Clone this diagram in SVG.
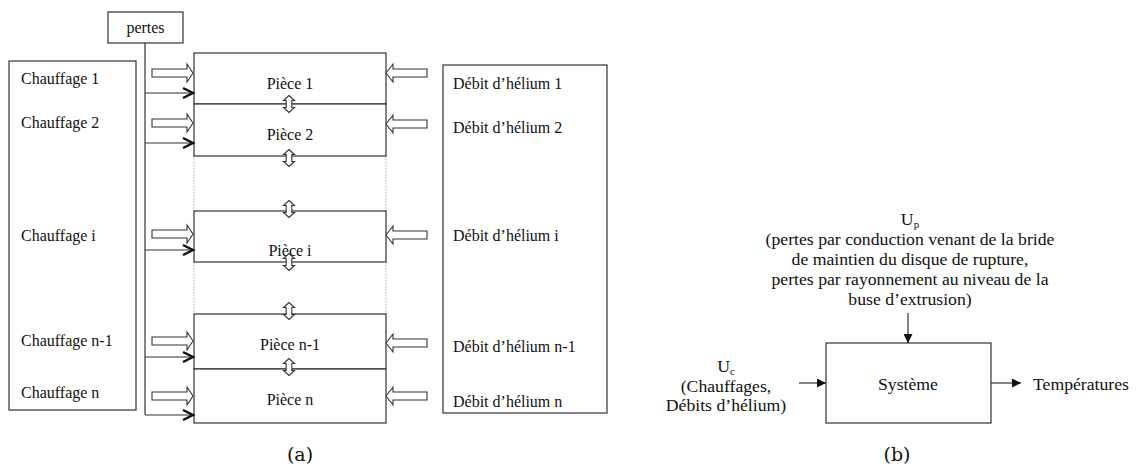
<svg xmlns="http://www.w3.org/2000/svg" width="1139" height="474" viewBox="0 0 1139 474">
<style>
text{font-family:"Liberation Serif","Tinos","DejaVu Serif",serif;fill:#111}
.t{font-size:16px}
.b{font-size:17.7px}
.cap{font-family:"DejaVu Serif","Liberation Serif",serif;font-size:19px}
.box{fill:#fff;stroke:#333;stroke-width:1.2}
.ln{fill:none;stroke:#333;stroke-width:1.2}
.dot{fill:none;stroke:#aaa;stroke-width:1;stroke-dasharray:1.5 1.5}
.hol{fill:#fff;stroke:#333;stroke-width:1.1;stroke-linejoin:miter}
.chev{fill:none;stroke:#111;stroke-width:2.4}
.sub{font-size:11px}
</style>
<defs>
<path id="hr" d="M0,0 L7,-9 L7,-4 L41,-4 L41,4 L7,4 L7,9 Z" class="hol"/>
<path id="hrt" d="M0,0 L-6,-9 L-6,-4 L-41,-4 L-41,4 L-6,4 L-6,9 Z" class="hol"/>
<path id="dv" d="M0,-8.5 L5.5,-3.5 L2.8,-3.5 L2.8,3.5 L5.5,3.5 L0,8.5 L-5.5,3.5 L-2.8,3.5 L-2.8,-3.5 L-5.5,-3.5 Z" class="hol"/>
<marker id="tri" viewBox="0 0 10 10" refX="10" refY="5" markerWidth="9" markerHeight="9" markerUnits="userSpaceOnUse" orient="auto">
<path d="M0,0 L10,5 L0,10 Z" fill="#111"/>
</marker>
</defs>

<g id="pertes">
<rect class="box" x="108" y="12" width="75" height="31"/>
<text class="t" x="145.5" y="33" text-anchor="middle">pertes</text>
</g>

<g id="chauffages">
<rect class="box" x="9" y="61" width="127" height="349"/>
<text class="t" x="21" y="84">Chauffage 1</text>
<text class="t" x="21" y="128">Chauffage 2</text>
<text class="t" x="21" y="241">Chauffage i</text>
<text class="t" x="21" y="346">Chauffage n-1</text>
<text class="t" x="21" y="398">Chauffage n</text>
</g>

<g id="pieces">
<path class="dot" d="M194,156 V211 M386,156 V211 M194,262 V314 M386,262 V314"/>
<rect class="box" x="194" y="53" width="192" height="51"/>
<rect class="box" x="194" y="104" width="192" height="52"/>
<rect class="box" x="194" y="211" width="192" height="51"/>
<rect class="box" x="194" y="314" width="192" height="55"/>
<rect class="box" x="194" y="369" width="192" height="54"/>
<text class="t" x="290" y="89" text-anchor="middle">Pièce 1</text>
<text class="t" x="290" y="140" text-anchor="middle">Pièce 2</text>
<text class="t" x="290" y="256" text-anchor="middle">Pièce i</text>
<text class="t" x="290" y="350" text-anchor="middle">Pièce n-1</text>
<text class="t" x="290" y="405" text-anchor="middle">Pièce n</text>
</g>

<g id="helium">
<rect class="box" x="443" y="65" width="164" height="348"/>
<text class="t" x="453" y="89">Débit d’hélium 1</text>
<text class="t" x="453" y="133">Débit d’hélium 2</text>
<text class="t" x="453" y="241">Débit d’hélium i</text>
<text class="t" x="453" y="352">Débit d’hélium n-1</text>
<text class="t" x="453" y="407">Débit d’hélium n</text>
</g>

<g id="connectors-a">
<path class="ln" d="M145,43 V415 M145,93 H192 M145,143 H192 M145,250 H192 M145,357 H192 M145,415 H192"/>
<path class="chev" d="M183,88 L193,93 L183,98 M183,138 L193,143 L183,148 M183,245 L193,250 L183,255 M183,352 L193,357 L183,362 M183,410 L193,415 L183,420"/>
<use href="#hrt" x="193" y="73"/>
<use href="#hrt" x="193" y="123"/>
<use href="#hrt" x="193" y="234"/>
<use href="#hrt" x="193" y="341"/>
<use href="#hrt" x="193" y="396"/>
<use href="#hr" x="386" y="73"/>
<use href="#hr" x="386" y="124"/>
<use href="#hr" x="386" y="235"/>
<use href="#hr" x="386" y="343"/>
<use href="#hr" x="386" y="396"/>
<use href="#dv" x="289" y="104"/>
<use href="#dv" x="289" y="158"/>
<use href="#dv" x="289" y="209"/>
<use href="#dv" x="289" y="262"/>
<use href="#dv" x="289" y="311"/>
<use href="#dv" x="289" y="367"/>
</g>

<text class="cap" x="300" y="461" text-anchor="middle">(a)</text>

<g id="up">
<text class="b" x="910" y="225" text-anchor="middle">U<tspan class="sub" dy="3">p</tspan></text>
<text class="b" x="910" y="245" text-anchor="middle">(pertes par conduction venant de la bride</text>
<text class="b" x="910" y="265" text-anchor="middle">de maintien du disque de rupture,</text>
<text class="b" x="910" y="285" text-anchor="middle">pertes par rayonnement au niveau de la</text>
<text class="b" x="910" y="305" text-anchor="middle">buse d’extrusion)</text>
</g>

<g id="uc">
<text class="b" x="726" y="372" text-anchor="middle">U<tspan class="sub" dy="3">c</tspan></text>
<text class="b" x="726" y="392" text-anchor="middle">(Chauffages,</text>
<text class="b" x="726" y="411" text-anchor="middle">Débits d’hélium)</text>
</g>

<g id="systeme">
<rect class="box" x="826" y="343" width="165" height="80"/>
<text class="b" x="908" y="390" text-anchor="middle">Système</text>
</g>

<g id="temperatures">
<text class="b" x="1033" y="390">Températures</text>
</g>

<g id="connectors-b">
<path class="ln" d="M908,313 V343" marker-end="url(#tri)"/>
<path class="ln" d="M799,383 H826" marker-end="url(#tri)"/>
<path class="ln" d="M991,383 H1021" marker-end="url(#tri)"/>
</g>

<text class="cap" x="897" y="461" text-anchor="middle">(b)</text>
</svg>
